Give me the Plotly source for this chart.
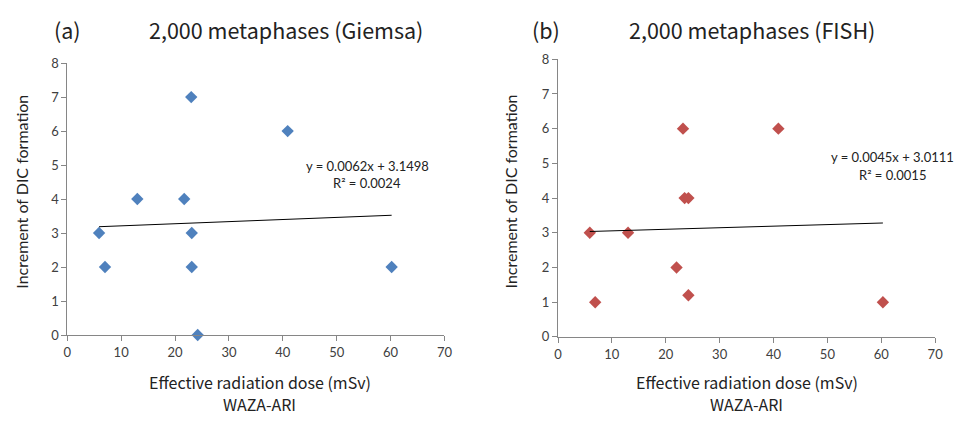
import plotly.graph_objects as go

# Panel (a) Giemsa
giemsa_dose = [5.9, 7.0, 13.0, 21.7, 23.0, 23.1, 23.1, 24.2, 40.9, 60.2]
giemsa_dic = [3, 2, 4, 4, 7, 3, 2, 0, 6, 2]
giemsa_slope, giemsa_icpt = 0.0062, 3.1498
giemsa_eq = ["y = 0.0062x + 3.1498", "R² = 0.0024"]

# Panel (b) FISH
fish_dose = [5.9, 6.9, 13.0, 22.0, 24.2, 23.2, 40.9, 23.5, 24.2, 60.3]
fish_dic = [3, 1, 3, 2, 1.2, 6, 6, 4, 4, 1]
fish_slope, fish_icpt = 0.0045, 3.0111
fish_eq = ["y = 0.0045x + 3.0111", "R² = 0.0015"]

x_ticks = [0, 10, 20, 30, 40, 50, 60, 70]
y_ticks = [0, 1, 2, 3, 4, 5, 6, 7, 8]

# page has 8px body margin: figure drawn at (8, 8) inside the 964x425 window
OFF = 8
FW, FH = 964 - 2 * OFF, 425 - 2 * OFF

def px(x):
    return (x - OFF) / FW

def py(y):
    return 1 - (y - OFF) / FH

fig = go.Figure()

def add_panel(xs, ys, slope, icpt, color, xa, ya):
    fig.add_trace(go.Scatter(x=xs, y=ys, mode="markers", xaxis=xa, yaxis=ya,
                             marker=dict(symbol="diamond", size=9.5, color=color),
                             cliponaxis=False, showlegend=False))
    x0, x1 = min(xs), max(xs)
    fig.add_trace(go.Scatter(x=[x0, x1], y=[slope * x0 + icpt, slope * x1 + icpt],
                             mode="lines", xaxis=xa, yaxis=ya,
                             line=dict(color="black", width=1), showlegend=False))

add_panel(giemsa_dose, giemsa_dic, giemsa_slope, giemsa_icpt, "#4F81BD", "x", "y")
add_panel(fish_dose, fish_dic, fish_slope, fish_icpt, "#C0504D", "x2", "y2")

tickfont = dict(family="Lato, Open Sans, sans-serif", size=13, color="#404040")
axcommon = dict(showgrid=False, zeroline=False, showline=True, linecolor="#868686",
                linewidth=1, ticks="outside", ticklen=5, tickcolor="#868686",
                tickfont=tickfont)

fig.update_layout(
    width=FW, height=FH, margin=dict(l=0, r=0, t=0, b=0),
    plot_bgcolor="white", paper_bgcolor="white",
    xaxis=dict(domain=[px(64), px(446)], range=[0, 70], tickvals=x_ticks, anchor="y", **axcommon),
    yaxis=dict(domain=[py(340), py(57)], range=[0, 8], tickvals=y_ticks, anchor="x", **axcommon),
    xaxis2=dict(domain=[px(561), px(943)], range=[0, 70], tickvals=x_ticks, anchor="y2", **axcommon),
    yaxis2=dict(domain=[py(342), py(53)], range=[0, 8], tickvals=y_ticks, anchor="x2", **axcommon),
)

cjk = "Noto Sans CJK JP, sans-serif"
lat = "Lato, Open Sans, sans-serif"

def ann(x, y, text, size, family, color="#222222", angle=0):
    fig.add_annotation(x=px(x), y=py(y), xref="paper", yref="paper", text=text,
                       showarrow=False, font=dict(size=size, family=family, color=color),
                       textangle=angle, xanchor="center", yanchor="middle")

# titles
ann(64, 22, "(a)", 21.5, cjk)
ann(286, 22, "2,000 metaphases (Giemsa)", 21.5, cjk)
ann(549, 22, "(b)", 21.5, cjk)
ann(757, 22, "2,000 metaphases (FISH)", 21.5, cjk)

# y titles
ann(18, 191, "Increment of DIC formation", 16, lat, angle=-90)
ann(513, 191, "Increment of DIC formation", 16, lat, angle=-90)

# x titles
for cx in (259, 752):
    ann(cx, 389, "Effective radiation dose (mSv)", 16, cjk)
    ann(cx, 412, "WAZA-ARI", 16, cjk)

# equations
ann(368, 164, giemsa_eq[0], 13, lat)
ann(368, 182, giemsa_eq[1], 13, lat)
ann(900, 155, fish_eq[0], 13, lat)
ann(900, 173, fish_eq[1], 13, lat)

fig.write_html("out.html", config={"displayModeBar": False})
